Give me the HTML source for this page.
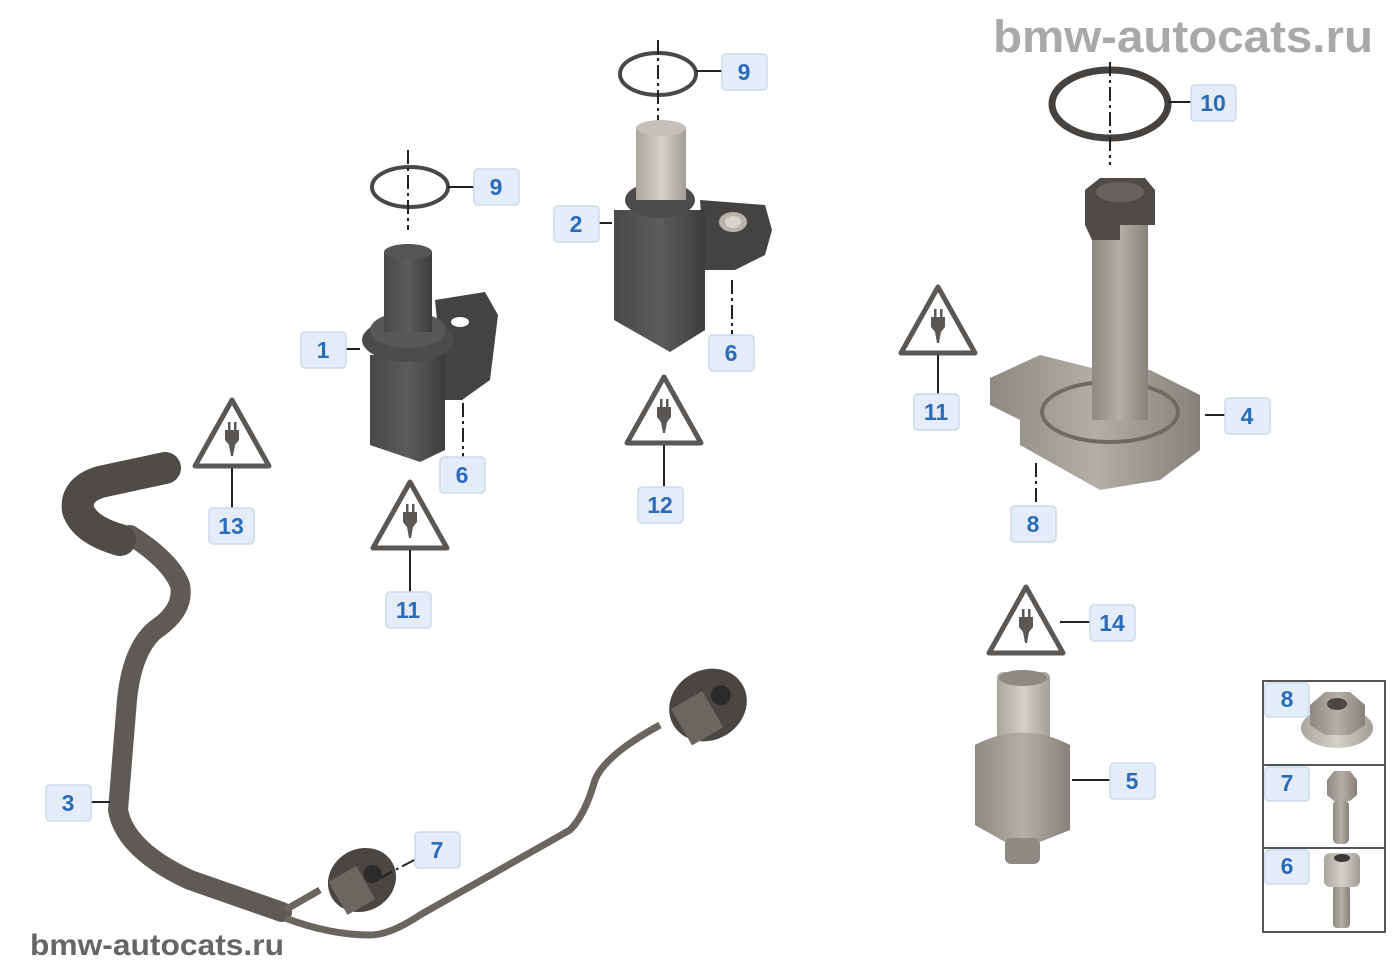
<!DOCTYPE html>
<html><head><meta charset="utf-8"><style>
html,body{margin:0;padding:0;background:#fff}
svg{display:block}
.lb rect{fill:#e4edf7;stroke:#cbdaea;stroke-width:1.5}
.lb text{font-family:"Liberation Sans",sans-serif;font-weight:bold;font-size:23px;fill:#2b6cb8;text-anchor:middle}
.ln{stroke:#222;stroke-width:2;fill:none}
.dl{stroke:#222;stroke-width:2;fill:none;stroke-dasharray:14 4 3 4}
.tri{fill:none;stroke:#5a5754;stroke-width:5;stroke-linejoin:round}
</style></head><body>
<svg width="1400" height="980" viewBox="0 0 1400 980" xmlns="http://www.w3.org/2000/svg">
<defs>
<linearGradient id="dk" x1="0" x2="1"><stop offset="0" stop-color="#4a4846"/><stop offset=".5" stop-color="#5e5c5a"/><stop offset="1" stop-color="#3e3c3b"/></linearGradient>
<linearGradient id="lt" x1="0" x2="1"><stop offset="0" stop-color="#8e8982"/><stop offset=".5" stop-color="#b3aea6"/><stop offset="1" stop-color="#86817a"/></linearGradient>
<linearGradient id="pl" x1="0" x2="1"><stop offset="0" stop-color="#aaa59e"/><stop offset=".5" stop-color="#d4d0ca"/><stop offset="1" stop-color="#a29d96"/></linearGradient>
<g id="warn">
<path class="tri" d="M0,-36 L37,30 L-37,30 Z"/>
<rect x="-4" y="-14" width="2.5" height="8" fill="#5a5754"/><rect x="2" y="-14" width="2.5" height="8" fill="#5a5754"/>
<path d="M-7,-6 H7 V4 L3,9 L1,20 L-1,20 L-3,9 L-7,4 Z" fill="#5a5754"/>
</g>
</defs>

<text x="993" y="52" font-family="Liberation Sans,sans-serif" font-weight="bold" font-size="45" fill="#a9a9a9" textLength="380" lengthAdjust="spacingAndGlyphs">bmw-autocats.ru</text>
<text x="30" y="955" font-family="Liberation Sans,sans-serif" font-weight="bold" font-size="30" fill="#666" textLength="254" lengthAdjust="spacingAndGlyphs">bmw-autocats.ru</text>

<!-- rings -->
<ellipse cx="410" cy="187" rx="38" ry="20" fill="none" stroke="#4a4744" stroke-width="4"/>
<ellipse cx="658" cy="74" rx="38" ry="21" fill="none" stroke="#4a4744" stroke-width="4"/>
<ellipse cx="1110" cy="104" rx="58" ry="34" fill="none" stroke="#45423f" stroke-width="7"/>
<path class="dl" d="M408,150 V230 M658,40 V120 M1110,62 V165"/>
<path class="ln" d="M448,187 H480 M696,71 H728 M1168,102 H1192"/>

<!-- sensor 1 -->
<path d="M435,300 L485,292 L498,315 L490,380 L462,400 L445,400 Z" fill="#454341"/>
<ellipse cx="460" cy="322" rx="9" ry="5" fill="#fff"/>
<path d="M370,355 H445 V450 L420,462 L370,445 Z" fill="url(#dk)"/>
<ellipse cx="408" cy="340" rx="46" ry="22" fill="#4d4b49"/>
<ellipse cx="408" cy="330" rx="38" ry="18" fill="#5a5856"/>
<rect x="384" y="252" width="48" height="80" fill="url(#dk)"/>
<ellipse cx="408" cy="252" rx="24" ry="8" fill="#555"/>
<path class="ln" d="M302,349 H360"/><path class="dl" d="M463,403 V462"/>

<!-- sensor 2 -->
<path d="M700,200 L765,205 L772,230 L765,255 L735,270 L705,270 Z" fill="#454341"/>
<ellipse cx="733" cy="222" rx="14" ry="10" fill="#b8b3ab"/><ellipse cx="733" cy="222" rx="8" ry="6" fill="#d8d4ce"/>
<path d="M614,210 H705 V330 L670,352 L614,320 Z" fill="url(#dk)"/>
<ellipse cx="660" cy="200" rx="35" ry="18" fill="#4d4b49"/>
<rect x="636" y="128" width="50" height="72" fill="url(#pl)"/>
<ellipse cx="661" cy="128" rx="25" ry="8" fill="#c4c0ba"/>
<path class="ln" d="M598,223 H612"/><path class="dl" d="M732,280 V338"/>

<!-- sensor 4 -->
<path d="M990,378 L1040,355 L1100,370 L1150,370 L1200,395 L1200,450 L1160,480 L1100,490 L1020,445 L1020,420 L990,405 Z" fill="url(#lt)"/>
<ellipse cx="1110" cy="412" rx="68" ry="30" fill="none" stroke="#6f6a64" stroke-width="4"/>
<rect x="1092" y="225" width="56" height="195" fill="url(#lt)"/>
<path d="M1085,190 L1100,178 H1145 L1155,190 V225 H1120 V240 L1092,240 L1085,225 Z" fill="#4e4b48"/>
<ellipse cx="1120" cy="192" rx="24" ry="10" fill="#66625e"/>
<path class="ln" d="M1205,415 H1230"/><path class="dl" d="M1036,463 V505"/>

<!-- sensor 5 -->
<rect x="997" y="672" width="53" height="75" rx="6" fill="url(#pl)"/>
<ellipse cx="1023" cy="678" rx="24" ry="8" fill="#8e8982"/>
<path d="M975,745 Q1022,720 1070,745 V830 L1040,842 H1005 L975,825 Z" fill="url(#lt)"/>
<rect x="1005" y="838" width="35" height="26" rx="6" fill="#8f8a83"/>
<path class="ln" d="M1072,780 H1115 M1060,622 H1095"/>

<!-- cable 3 -->
<path d="M130,535 Q170,560 180,585 Q185,610 155,630 Q132,650 127,700 L118,810 Q125,850 190,880 L282,912" fill="none" stroke="#5f5a55" stroke-width="20" stroke-linecap="round"/>
<path d="M120,540 Q85,530 78,510 Q75,490 100,482 L165,468" fill="none" stroke="#4f4b47" stroke-width="32" stroke-linecap="round"/>
<path d="M285,918 Q330,935 370,935 Q390,935 420,915 L570,830 Q585,815 595,780 Q605,755 660,725" fill="none" stroke="#6a655f" stroke-width="7"/>
<path d="M285,910 L320,890" stroke="#6a655f" stroke-width="7"/>
<g transform="translate(362,880) rotate(-30)"><ellipse rx="35" ry="31" fill="#4a4644"/><rect x="-30" y="-15" width="32" height="38" fill="#6b6660"/><circle cx="12" cy="0" r="9" fill="#2c2a29"/></g>
<g transform="translate(708,705) rotate(-30)"><ellipse rx="40" ry="35" fill="#4a4644"/><rect x="-34" y="-15" width="36" height="42" fill="#6b6660"/><circle cx="16" cy="-2" r="10" fill="#2c2a29"/></g>
<path class="ln" d="M88,802 H110"/><path class="dl" d="M380,878 L418,858"/>

<!-- warnings -->
<use href="#warn" x="232" y="436"/>
<use href="#warn" x="410" y="518"/>
<use href="#warn" x="664" y="413"/>
<use href="#warn" x="938" y="323"/>
<use href="#warn" x="1026" y="623"/>
<path class="ln" d="M232,468 V508 M410,550 V592 M664,445 V488 M938,355 V395"/>

<!-- hardware box -->
<rect x="1263" y="681" width="122" height="251" fill="#fff" stroke="#555" stroke-width="2"/>
<path d="M1263,765 H1385 M1263,848 H1385" stroke="#555" stroke-width="2"/>
<ellipse cx="1337" cy="728" rx="36" ry="20" fill="url(#pl)"/>
<path d="M1310,705 L1325,692 H1350 L1365,705 V725 L1350,735 H1325 L1310,725 Z" fill="url(#lt)"/>
<ellipse cx="1337" cy="704" rx="10" ry="6" fill="#4a4644"/>
<rect x="1333" y="800" width="16" height="44" rx="5" fill="url(#lt)"/>
<path d="M1327,780 L1334,771 H1350 L1357,780 V795 L1350,801 H1334 L1327,795 Z" fill="url(#lt)"/>
<rect x="1333" y="885" width="17" height="43" rx="4" fill="url(#lt)"/>
<rect x="1324" y="853" width="36" height="34" rx="6" fill="url(#pl)"/>
<ellipse cx="1342" cy="858" rx="8" ry="4" fill="#3c3a38"/>

<!-- labels -->
<g class="lb">
<rect x="722" y="54" width="45" height="36" rx="4"/><text x="744" y="80">9</text>
<rect x="474" y="169" width="45" height="36" rx="4"/><text x="496" y="195">9</text>
<rect x="1191" y="85" width="45" height="36" rx="4"/><text x="1213" y="111">10</text>
<rect x="554" y="206" width="45" height="36" rx="4"/><text x="576" y="232">2</text>
<rect x="301" y="332" width="45" height="36" rx="4"/><text x="323" y="358">1</text>
<rect x="709" y="335" width="45" height="36" rx="4"/><text x="731" y="361">6</text>
<rect x="440" y="457" width="45" height="36" rx="4"/><text x="462" y="483">6</text>
<rect x="914" y="394" width="45" height="36" rx="4"/><text x="936" y="420">11</text>
<rect x="1225" y="398" width="45" height="36" rx="4"/><text x="1247" y="424">4</text>
<rect x="1011" y="506" width="45" height="36" rx="4"/><text x="1033" y="532">8</text>
<rect x="638" y="487" width="45" height="36" rx="4"/><text x="660" y="513">12</text>
<rect x="209" y="508" width="45" height="36" rx="4"/><text x="231" y="534">13</text>
<rect x="386" y="592" width="45" height="36" rx="4"/><text x="408" y="618">11</text>
<rect x="1090" y="605" width="45" height="36" rx="4"/><text x="1112" y="631">14</text>
<rect x="1110" y="763" width="45" height="36" rx="4"/><text x="1132" y="789">5</text>
<rect x="46" y="785" width="45" height="36" rx="4"/><text x="68" y="811">3</text>
<rect x="415" y="832" width="45" height="36" rx="4"/><text x="437" y="858">7</text>
<rect x="1265" y="683" width="44" height="34" rx="4"/><text x="1287" y="707">8</text>
<rect x="1265" y="767" width="44" height="34" rx="4"/><text x="1287" y="791">7</text>
<rect x="1265" y="850" width="44" height="34" rx="4"/><text x="1287" y="874">6</text>
</g>
</svg>
</body></html>
